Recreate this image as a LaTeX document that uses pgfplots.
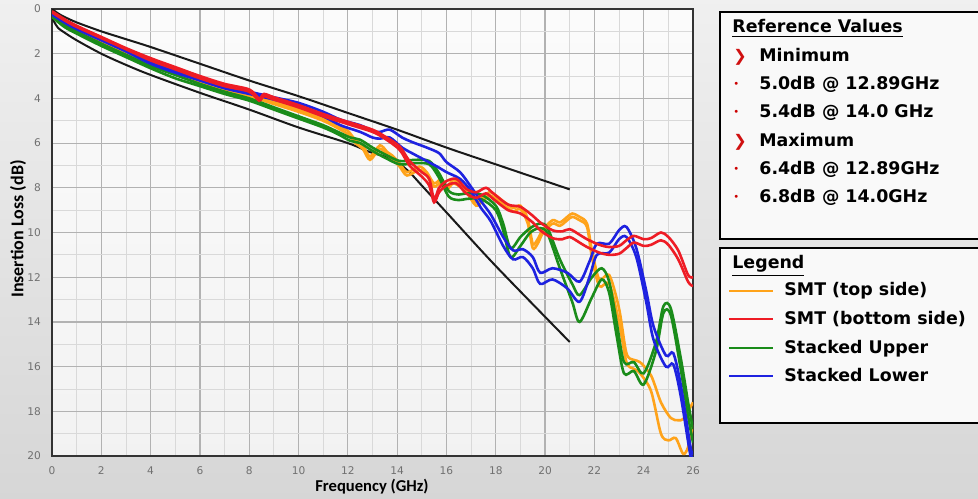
\documentclass[border=0pt]{standalone}
\usepackage{pgfplots}
\pgfplotsset{compat=1.18}
\usepackage{fontspec}
\setmainfont{DejaVu Sans}
\newfontfamily\carlito{Carlito}
\definecolor{smttop}{HTML}{FFA31A}
\definecolor{smtbot}{HTML}{EE1C25}
\definecolor{stkup}{HTML}{1A8C1A}
\definecolor{stklow}{HTML}{1E22E0}
\definecolor{ticgray}{HTML}{707070}
\definecolor{chev}{HTML}{D01010}

\begin{document}
\begin{tikzpicture}[x=1pt,y=1pt]
  \useasboundingbox (0,0) rectangle (489,249);
  \shade[top color=gray!12, bottom color=gray!32] (0,0) rectangle (489,249);

  \begin{axis}[
    at={(26pt,21pt)}, anchor=south west,
    scale only axis, width=320.5pt, height=223.5pt,
    xmin=0, xmax=26, ymin=0, ymax=20, y dir=reverse,
    xtick={0,2,...,26}, ytick={0,2,...,20},
    minor x tick num=1, minor y tick num=1,
    grid=both,
    major grid style={gray!60, line width=0.6pt},
    minor grid style={gray!30, line width=0.4pt},
    axis line style={black!80, line width=1pt},
    major tick length=0pt, minor tick length=0pt,
    axis background/.style={top color=white!97!gray, bottom color=white!90!gray},
    /pgf/number format/assume math mode=true,
    ticklabel style={font=\fontsize{5.3}{6}\selectfont, text=ticgray},
    xticklabel style={yshift=-2pt},
    yticklabel style={xshift=-2pt},
    every axis plot/.append style={line width=1.3pt, smooth, tension=0.5},
  ]
    % limit lines
    \addplot[black!90, line width=1pt] coordinates {
      (0,0) (0.25,0.2) (0.5,0.35) (1,0.6) (2,1.0) (3,1.35) (4,1.7) (6,2.45)
      (8,3.2) (10,3.9) (12,4.65) (14,5.4) (16,6.2) (18,6.95) (21,8.07)};
    \addplot[black!90, line width=1pt] coordinates {
      (0,0.4) (0.1,0.6) (0.25,0.85) (0.5,1.05) (1,1.4) (2,2.0) (3,2.5) (4,2.95)
      (6,3.75) (8,4.5) (10,5.3) (12,6.0) (12.89,6.4) (13.5,6.6) (14,6.85)
      (14.5,7.3) (15,7.9) (16,9.1) (18,11.5) (21,14.9)};

    % SMT (top side)
    \addplot[smttop] coordinates {
      (0,0.2) (0.5,0.55) (1,0.85) (2,1.35) (3,1.85) (4,2.35) (5,2.75) (6,3.15)
      (7,3.5) (8,3.8) (9,4.15) (10,4.5) (11,4.9) (11.7,5.3) (12.0,5.45) (12.3,5.85)
      (12.6,6.1) (12.9,6.6) (13.3,6.1) (13.6,6.4) (13.8,6.55) (14.1,6.9) (14.4,7.3)
      (14.9,7.05) (15.2,7.3) (15.5,7.8) (15.8,7.6) (16.0,7.95) (16.3,7.65) (16.8,8.05)
      (17.2,8.65) (17.5,8.4) (17.8,8.2) (18.3,8.6) (18.7,8.9) (19.0,8.8) (19.3,9.4)
      (19.5,10.5) (19.7,10.3) (19.9,9.9) (20.3,9.45) (20.6,9.55) (20.9,9.3) (21.1,9.15)
      (21.4,9.3) (21.7,9.6) (21.9,10.8) (22.2,12.1) (22.6,11.9) (23.0,13.4) (23.3,15.4)
      (23.6,15.7) (23.85,15.8) (24.3,16.4) (24.7,17.6) (25.1,18.3) (25.4,18.4)
      (25.6,18.35) (25.8,18.0) (26.0,17.6)};
    \addplot[smttop] coordinates {
      (0,0.25) (0.5,0.6) (1,0.9) (2,1.45) (3,1.95) (4,2.45) (5,2.85) (6,3.25)
      (7,3.6) (8,3.9) (9,4.25) (10,4.6) (11,5.0) (11.7,5.4) (12.0,5.6) (12.3,6.0)
      (12.6,6.25) (12.9,6.75) (13.3,6.25) (13.6,6.55) (13.8,6.7) (14.1,7.05) (14.4,7.45)
      (14.9,7.2) (15.2,7.45) (15.5,7.95) (15.8,7.75) (16.0,8.1) (16.3,7.8) (16.8,8.2)
      (17.2,8.8) (17.5,8.55) (17.8,8.35) (18.3,8.75) (18.7,9.05) (19.0,8.95) (19.3,9.6)
      (19.5,10.7) (19.7,10.5) (19.9,10.05) (20.3,9.6) (20.6,9.7) (20.9,9.45) (21.1,9.3)
      (21.4,9.45) (21.7,9.75) (21.9,11.1) (22.2,12.4) (22.6,12.3) (23.0,14.0) (23.3,15.8)
      (23.6,16.1) (23.85,16.3) (24.3,17.1) (24.7,19.0) (25.0,19.3) (25.3,19.2)
      (25.6,19.9) (25.8,19.6) (26.0,18.6)};

    % Stacked Upper
    \addplot[stkup] coordinates {
      (0,0.3) (0.5,0.7) (1,1.0) (2,1.55) (3,2.05) (4,2.55) (5,2.95) (6,3.35) (7,3.7)
      (8,4.0) (9,4.4) (10,4.8) (11,5.2) (11.6,5.5) (12.1,5.75) (12.5,5.85) (13.0,6.2)
      (13.5,6.5) (14.1,6.8) (14.7,6.75) (15.3,6.8) (15.7,7.35) (16.1,8.15) (16.5,8.3)
      (16.8,8.25) (17.4,8.3) (18.0,8.8) (18.3,9.6) (18.6,10.7) (19.0,10.2) (19.4,9.8)
      (19.8,9.6) (20.1,9.8) (20.6,11.2) (21.1,12.3) (21.4,12.8) (21.9,12.0) (22.3,11.6)
      (22.6,12.2) (22.9,14.0) (23.2,15.8) (23.6,15.8) (24.0,16.3) (24.5,14.9)
      (24.8,13.3) (25.1,13.4) (25.5,15.6) (25.8,17.6) (26,18.8)};
    \addplot[stkup] coordinates {
      (0,0.35) (0.5,0.8) (1,1.1) (2,1.65) (3,2.15) (4,2.65) (5,3.1) (6,3.45) (7,3.8)
      (8,4.1) (9,4.5) (10,4.9) (11,5.3) (11.6,5.6) (12.1,5.9) (12.5,6.0) (13.0,6.35)
      (13.5,6.65) (14.1,6.95) (14.7,6.9) (15.3,6.95) (15.7,7.55) (16.1,8.4) (16.5,8.55)
      (16.8,8.5) (17.4,8.5) (18.0,9.0) (18.3,9.9) (18.6,11.1) (19.0,10.6) (19.4,10.0)
      (19.8,9.8) (20.1,10.05) (20.6,11.6) (21.1,13.1) (21.4,14.0) (21.9,12.9) (22.3,12.1)
      (22.6,12.7) (22.9,14.6) (23.2,16.3) (23.6,16.2) (24.0,16.8) (24.5,15.3)
      (24.8,13.6) (25.1,13.7) (25.5,16.1) (25.8,18.2) (26,19.4)};

    % Stacked Lower
    \addplot[stklow] coordinates {
      (0,0.2) (0.5,0.55) (1,0.85) (2,1.35) (3,1.85) (4,2.35) (5,2.75) (6,3.1) (7,3.45)
      (8,3.7) (9,3.95) (10,4.2) (11,4.6) (11.7,4.95) (12.5,5.2) (13.0,5.45) (13.3,5.5)
      (13.7,5.4) (14.2,5.75) (14.6,5.95) (15.2,6.2) (15.7,6.45) (16.0,6.85) (16.55,7.3)
      (16.96,7.9) (17.4,8.6) (17.8,9.2) (18.3,10.2) (18.7,10.8) (19.1,10.75) (19.5,11.1)
      (19.8,11.8) (20.3,11.6) (20.9,11.8) (21.4,12.2) (21.8,11.3) (22.1,10.5) (22.6,10.5)
      (23.0,9.9) (23.3,9.75) (23.7,10.7) (24.1,12.6) (24.4,14.2) (24.9,15.5) (25.2,15.4)
      (25.5,16.8) (25.9,19.6) (26,19.9)};
    \addplot[stklow] coordinates {
      (0,0.25) (0.5,0.6) (1,0.9) (2,1.4) (3,1.9) (4,2.45) (5,2.85) (6,3.2) (7,3.55)
      (8,3.8) (9,4.05) (10,4.35) (11,4.8) (11.7,5.2) (12.5,5.5) (13.0,5.75) (13.3,5.8)
      (13.7,5.75) (14.2,6.2) (14.6,6.45) (15.2,6.8) (15.7,7.1) (16.0,7.3) (16.55,7.6)
      (16.96,8.1) (17.4,8.9) (17.8,9.5) (18.3,10.6) (18.7,11.2) (19.1,11.1) (19.5,11.6)
      (19.8,12.3) (20.3,12.1) (20.9,12.5) (21.4,13.1) (21.8,12.0) (22.1,11.0) (22.6,10.9)
      (23.0,10.3) (23.3,10.2) (23.7,11.1) (24.1,13.1) (24.4,14.8) (24.9,16.0) (25.2,15.9)
      (25.5,17.3) (25.9,20.0) (26,20.0)};

    % SMT (bottom side)
    \addplot[smtbot] coordinates {
      (0,0.1) (0.5,0.45) (1,0.75) (2,1.25) (3,1.75) (4,2.2) (5,2.6) (6,3.0) (7,3.35)
      (8,3.6) (8.4,4.0) (8.6,3.8) (9,3.95) (10,4.3) (11,4.7) (12,5.05) (13,5.4)
      (13.5,5.7) (14.1,6.15) (14.5,6.8) (15.0,7.3) (15.3,7.6) (15.5,8.5) (15.7,8.0)
      (16.0,7.7) (16.4,7.6) (16.8,8.05) (17.2,8.2) (17.6,8.0) (17.9,8.25) (18.5,8.75)
      (19.0,8.85) (19.5,9.25) (19.8,9.55) (20.3,9.9) (20.7,9.95) (21.0,9.85) (21.4,10.1)
      (21.7,10.3) (22.2,10.55) (22.6,10.65) (23.0,10.6) (23.3,10.35) (23.6,10.15)
      (24.0,10.3) (24.3,10.25) (24.7,10.0) (25.0,10.2) (25.4,10.8) (25.8,11.9) (26,12.0)};
    \addplot[smtbot] coordinates {
      (0,0.15) (0.5,0.5) (1,0.8) (2,1.3) (3,1.8) (4,2.3) (5,2.7) (6,3.1) (7,3.45)
      (8,3.7) (8.4,4.1) (8.6,3.9) (9,4.05) (10,4.4) (11,4.8) (12,5.15) (13,5.5)
      (13.5,5.8) (14.1,6.3) (14.5,7.0) (15.0,7.5) (15.3,7.9) (15.5,8.65) (15.7,8.2)
      (16.0,7.9) (16.4,7.8) (16.8,8.25) (17.2,8.45) (17.6,8.25) (17.9,8.5) (18.5,9.0)
      (19.0,9.15) (19.5,9.55) (19.8,9.9) (20.3,10.25) (20.7,10.3) (21.0,10.2) (21.4,10.45)
      (21.7,10.65) (22.2,10.9) (22.6,11.0) (23.0,10.95) (23.3,10.7) (23.6,10.45)
      (24.0,10.6) (24.3,10.55) (24.7,10.35) (25.0,10.55) (25.4,11.2) (25.8,12.2) (26,12.4)};
  \end{axis}

  % axis titles
  \node[rotate=90, font=\carlito\bfseries\fontsize{9}{10}\selectfont] at (9,134.5) {Insertion Loss (dB)};
  \node[font=\carlito\bfseries\fontsize{8.3}{10}\selectfont] at (186,5.5) {Frequency (GHz)};

  % Reference values box
  \draw[line width=1.2pt, fill=white!95!gray] (360,129.5) rectangle (500,243);
  \begin{scope}[every node/.style={anchor=base west, inner sep=0pt,
      font=\bfseries\fontsize{8.7}{10}\selectfont}]
    \node at (366,232.5) {\underline{Reference Values}};
    \node[text=chev, font=\bfseries\fontsize{8}{10}\selectfont] at (366.5,218.3) {❯};
    \node at (379.5,218) {Minimum};
    \node[text=red!80!black, font=\fontsize{5}{6}\selectfont] at (366.5,205) {•};
    \node at (379.5,204) {5.0dB @ 12.89GHz};
    \node[text=red!80!black, font=\fontsize{5}{6}\selectfont] at (366.5,191) {•};
    \node at (379.5,190) {5.4dB @ 14.0 GHz};
    \node[text=chev, font=\bfseries\fontsize{8}{10}\selectfont] at (366.5,175.8) {❯};
    \node at (379.5,175.5) {Maximum};
    \node[text=red!80!black, font=\fontsize{5}{6}\selectfont] at (366.5,162.5) {•};
    \node at (379.5,161.5) {6.4dB @ 12.89GHz};
    \node[text=red!80!black, font=\fontsize{5}{6}\selectfont] at (366.5,148.5) {•};
    \node at (379.5,147.5) {6.8dB @ 14.0GHz};
  \end{scope}

  % Legend box
  \draw[line width=1.2pt, fill=white!95!gray] (360,37.5) rectangle (500,125);
  \begin{scope}[every node/.style={anchor=base west, inner sep=0pt,
      font=\bfseries\fontsize{8.7}{10}\selectfont}]
    \node at (366,114.5) {\underline{Legend}};
    \draw[smttop, line width=1pt] (364.5,103.5) -- (386.5,103.5);
    \node at (392,101) {SMT (top side)};
    \draw[smtbot, line width=1pt] (364.5,89.5) -- (386.5,89.5);
    \node at (392,87) {SMT (bottom side)};
    \draw[stkup, line width=1pt] (364.5,75) -- (386.5,75);
    \node at (392,72.5) {Stacked Upper};
    \draw[stklow, line width=1pt] (364.5,61) -- (386.5,61);
    \node at (392,58.5) {Stacked Lower};
  \end{scope}
\end{tikzpicture}
\end{document}
